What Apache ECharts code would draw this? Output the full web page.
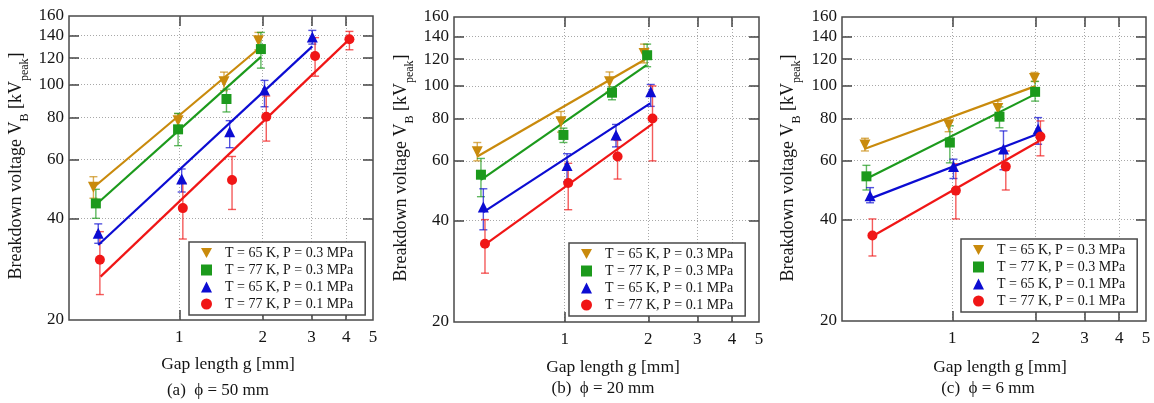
<!DOCTYPE html>
<html><head><meta charset="utf-8">
<script src="https://cdn.jsdelivr.net/npm/echarts@6/dist/echarts.min.js"></script>
<style>html,body{margin:0;padding:0;background:#fff}#c{width:1154px;height:403px}</style>
</head><body><div id="c"></div>
<script>
// ---------- text / ticks ----------
const panelCaptions = ['(a)  \u03D5 = 50 mm', '(b)  \u03D5 = 20 mm', '(c)  \u03D5 = 6 mm'];
const seriesNames = ['T = 65 K, P = 0.3 MPa', 'T = 77 K, P = 0.3 MPa', 'T = 65 K, P = 0.1 MPa', 'T = 77 K, P = 0.1 MPa'];
const xTickLabels = [1, 2, 3, 4, 5];
const xGridTicks = [1, 2, 3, 4];
const yTickLabels = [20, 40, 60, 80, 100, 120, 140, 160];
const yGridTicks = [40, 60, 80, 100, 120, 140];
const xTitle = 'Gap length g [mm]';

// ---------- panel (a) phi = 50 mm ----------  (order follows seriesNames)
const a_gap = [[0.49, 0.99, 1.45, 1.93], [0.50, 0.99, 1.48, 1.97], [0.51, 1.02, 1.52, 2.03, 3.02], [0.517, 1.03, 1.55, 2.06, 3.09, 4.11]];
const a_vb  = [[49.6, 78.2, 102, 135], [44.4, 73.7, 90.7, 127.6], [36.2, 52.5, 72.5, 96.4, 138.6], [30.2, 43.0, 52.1, 80.3, 121.7, 136.4]];
const a_lo  = [[46, 74.5, 96, 127], [40.1, 65.9, 83, 112], [33.8, 48, 65, 86, 132], [23.8, 34.8, 42.6, 68, 106, 127]];
const a_hi  = [[53.3, 82, 109, 143], [48.9, 82.2, 97, 143], [38.6, 56.2, 78.2, 103, 145], [36.6, 51, 61.2, 92.6, 138, 144]];
const a_fitGap = [[0.49, 2.0], [0.50, 1.97], [0.51, 3.02], [0.52, 4.05]];
const a_fitVb  = [[49.5, 131], [44, 121], [33.4, 130], [26.9, 135]];

// ---------- panel (b) phi = 20 mm ----------
const b_gap = [[0.485, 0.97, 1.45, 1.93], [0.50, 0.99, 1.48, 1.98], [0.51, 1.02, 1.53, 2.04], [0.517, 1.03, 1.55, 2.07]];
const b_vb  = [[63.9, 78.4, 102.9, 124.7], [54.6, 71.6, 95.5, 123.3], [43.8, 58.1, 71.6, 96.1], [34.1, 51.6, 61.8, 80.1]];
const b_lo  = [[60, 73, 96, 117], [47, 68, 91, 114], [37.5, 52, 66, 87], [27.9, 43, 53, 60]];
const b_hi  = [[68, 84, 110, 133], [61, 75, 99.4, 133], [49.6, 63, 76.9, 101], [40.2, 59, 69, 100]];
const b_fitGap = [[0.485, 1.945], [0.50, 1.97], [0.51, 2.03], [0.517, 2.07]];
const b_fitVb  = [[61.8, 119.7], [52.7, 115.2], [42.3, 88.8], [33.9, 77.2]];

// ---------- panel (c) phi = 6 mm ----------
const c_gap = [[0.484, 0.97, 1.46, 1.98], [0.49, 0.98, 1.48, 1.99], [0.505, 1.01, 1.53, 2.04], [0.515, 1.03, 1.56, 2.08]];
const c_vb  = [[66.7, 76.4, 85.6, 105], [53.8, 67.8, 80.9, 95.9], [47.1, 57.5, 64.9, 74.4], [35.9, 48.8, 57.5, 70.6]];
const c_lo  = [[64, 73, 81, 103], [49, 59, 75, 90], [44.9, 53, 56.3, 67], [31.2, 40.2, 49, 61.9]];
const c_hi  = [[69.8, 79, 90, 109.5], [58, 76, 86.5, 103], [49.8, 60.5, 73.4, 80.4], [40.2, 58.6, 64, 78.6]];
const c_fitGap = [[0.484, 1.995], [0.49, 1.995], [0.505, 2.03], [0.515, 2.06]];
const c_fitVb  = [[65.0, 99.7], [52.9, 94.4], [46.2, 71.9], [35.7, 68.5]];

// ---------- styling ----------
const FONT = 'Liberation Serif';
const TXT = '#141414';
const colors = ['#c98a0c', '#1c9a1c', '#0c0cd2', '#f01616'];
const symbols = ['triangle', 'rect', 'triangle', 'circle'];
const legendIcons = ['path://M0,0L10,0L5,9Z', 'rect', 'triangle', 'circle'];
const rotates = [180, 0, 0, 0];
const sizes = [11, 10, 11, 10];
const grids = [
  {left: 69, top: 16, width: 304, height: 304},
  {left: 454, top: 17, width: 305, height: 305},
  {left: 842, top: 17, width: 304, height: 304}
];
const legendPos = [{left: 189, top: 242}, {left: 569, top: 243}, {left: 961, top: 239}];
const yTitlePos = [[19, 166], [404, 168], [791, 168]];
const xTitlePos = [[228, 364], [613, 367], [1000, 367]];
const capPos = [[218, 391], [603, 389], [988, 389]];

const panels = [
  {gap: a_gap, vb: a_vb, lo: a_lo, hi: a_hi, fg: a_fitGap, fv: a_fitVb},
  {gap: b_gap, vb: b_vb, lo: b_lo, hi: b_hi, fg: b_fitGap, fv: b_fitVb},
  {gap: c_gap, vb: c_vb, lo: c_lo, hi: c_hi, fg: c_fitGap, fv: c_fitVb}
];

const xAxes = [], yAxes = [], series = [], legends = [], graphics = [];
const tickStyle = {color: '#444', width: 1.5};
const splitStyle = {color: '#a8a8a8', width: 1, type: [1, 2]};
const labelFont = {fontFamily: FONT, fontSize: 17, color: TXT};

panels.forEach((P, p) => {
  grids[p] = Object.assign({show: true, borderColor: '#4a4a4a', borderWidth: 1.5, backgroundColor: 'transparent'}, grids[p]);
  xAxes.push({
    type: 'log', gridIndex: p, position: 'bottom', min: 0.4, max: 5,
    axisLine: {show: false},
    axisTick: {show: true, inside: true, length: 10, lineStyle: tickStyle, customValues: xGridTicks},
    axisLabel: Object.assign({show: true, customValues: xTickLabels, margin: 9}, labelFont),
    splitLine: {show: true, lineStyle: splitStyle}
  });
  xAxes.push({
    type: 'log', gridIndex: p, position: 'top', min: 0.4, max: 5,
    axisLine: {show: false},
    axisTick: {show: true, inside: true, length: 10, lineStyle: tickStyle, customValues: xGridTicks},
    axisLabel: {show: false},
    splitLine: {show: false}
  });
  yAxes.push({
    type: 'log', gridIndex: p, position: 'left', min: 20, max: 160,
    axisLine: {show: false},
    axisTick: {show: true, inside: true, length: 10, lineStyle: tickStyle, customValues: yGridTicks},
    axisLabel: Object.assign({show: true, customValues: yTickLabels, margin: 5}, labelFont),
    splitLine: {show: true, lineStyle: splitStyle}
  });
  yAxes.push({
    type: 'log', gridIndex: p, position: 'right', min: 20, max: 160,
    axisLine: {show: false},
    axisTick: {show: true, inside: true, length: 10, lineStyle: tickStyle, customValues: yGridTicks},
    axisLabel: {show: false},
    splitLine: {show: false}
  });
});

// scatter markers
panels.forEach((P, p) => {
  seriesNames.forEach((nm, s) => {
    series.push({
      type: 'scatter', name: nm, xAxisIndex: 2 * p, yAxisIndex: 2 * p, z: 4,
      symbol: symbols[s], symbolRotate: rotates[s], symbolSize: sizes[s],
      itemStyle: {color: colors[s], opacity: 1},
      data: P.gap[s].map((g, j) => [g, P.vb[s][j]])
    });
  });
});
// fit lines
panels.forEach((P, p) => {
  seriesNames.forEach((nm, s) => {
    series.push({
      type: 'line', name: 'fit' + p + s, xAxisIndex: 2 * p, yAxisIndex: 2 * p, z: 3,
      showSymbol: false, symbol: 'none', silent: true,
      lineStyle: {color: colors[s], width: 2.2},
      data: P.fg[s].map((g, j) => [g, P.fv[s][j]])
    });
  });
});
// error bars
panels.forEach((P, p) => {
  seriesNames.forEach((nm, s) => {
    const col = colors[s];
    series.push({
      type: 'custom', name: 'err' + p + s, xAxisIndex: 2 * p, yAxisIndex: 2 * p, z: 2, silent: true,
      encode: {x: 0, y: [1, 2]},
      data: P.gap[s].map((g, j) => [g, P.lo[s][j], P.hi[s][j]]),
      renderItem: (params, api) => {
        const x = api.value(0);
        const a = api.coord([x, api.value(1)]);
        const b = api.coord([x, api.value(2)]);
        const st = {stroke: col, lineWidth: 1.4, opacity: 0.7};
        const h = 4;
        return {type: 'group', children: [
          {type: 'line', shape: {x1: a[0], y1: a[1], x2: b[0], y2: b[1]}, style: st},
          {type: 'line', shape: {x1: a[0] - h, y1: a[1], x2: a[0] + h, y2: a[1]}, style: st},
          {type: 'line', shape: {x1: b[0] - h, y1: b[1], x2: b[0] + h, y2: b[1]}, style: st}
        ]};
      }
    });
  });
});

panels.forEach((P, p) => {
  legends.push({
    orient: 'vertical', left: legendPos[p].left, top: legendPos[p].top,
    backgroundColor: '#fff', borderColor: '#4a4a4a', borderWidth: 1.5, borderRadius: 0,
    padding: [4, 12, 4, 12], itemGap: 3, itemWidth: 11, itemHeight: 11,
    textStyle: {fontFamily: FONT, fontSize: 14, lineHeight: 14, color: TXT, padding: [0, 0, 0, 8]},
    selectedMode: false,
    data: seriesNames.map((nm, s) => ({name: nm, icon: legendIcons[s], itemStyle: {color: colors[s]}}))
  });
  graphics.push({
    type: 'text', x: yTitlePos[p][0], y: yTitlePos[p][1], rotation: Math.PI / 2,
    style: {
      text: '{m|Breakdown voltage V}{s|B}{m| [kV}{s|peak}{m|]}',
      align: 'center', verticalAlign: 'middle', fill: TXT,
      rich: {
        m: {fontFamily: FONT, fontSize: 18, lineHeight: 23, verticalAlign: 'top', fill: TXT},
        s: {fontFamily: FONT, fontSize: 12, lineHeight: 12, verticalAlign: 'bottom', fill: TXT}
      }
    }
  });
  graphics.push({
    type: 'text', x: xTitlePos[p][0], y: xTitlePos[p][1],
    style: {text: xTitle, font: '17.5px "' + FONT + '"', align: 'center', verticalAlign: 'middle', fill: TXT}
  });
  graphics.push({
    type: 'text', x: capPos[p][0], y: capPos[p][1],
    style: {text: panelCaptions[p], font: '17px "' + FONT + '"', align: 'center', verticalAlign: 'middle', fill: TXT}
  });
});

const chart = echarts.init(document.getElementById('c'));
chart.setOption({
  animation: false,
  backgroundColor: '#fff',
  grid: grids,
  xAxis: xAxes,
  yAxis: yAxes,
  legend: legends,
  graphic: graphics,
  series: series
});
</script></body></html>
